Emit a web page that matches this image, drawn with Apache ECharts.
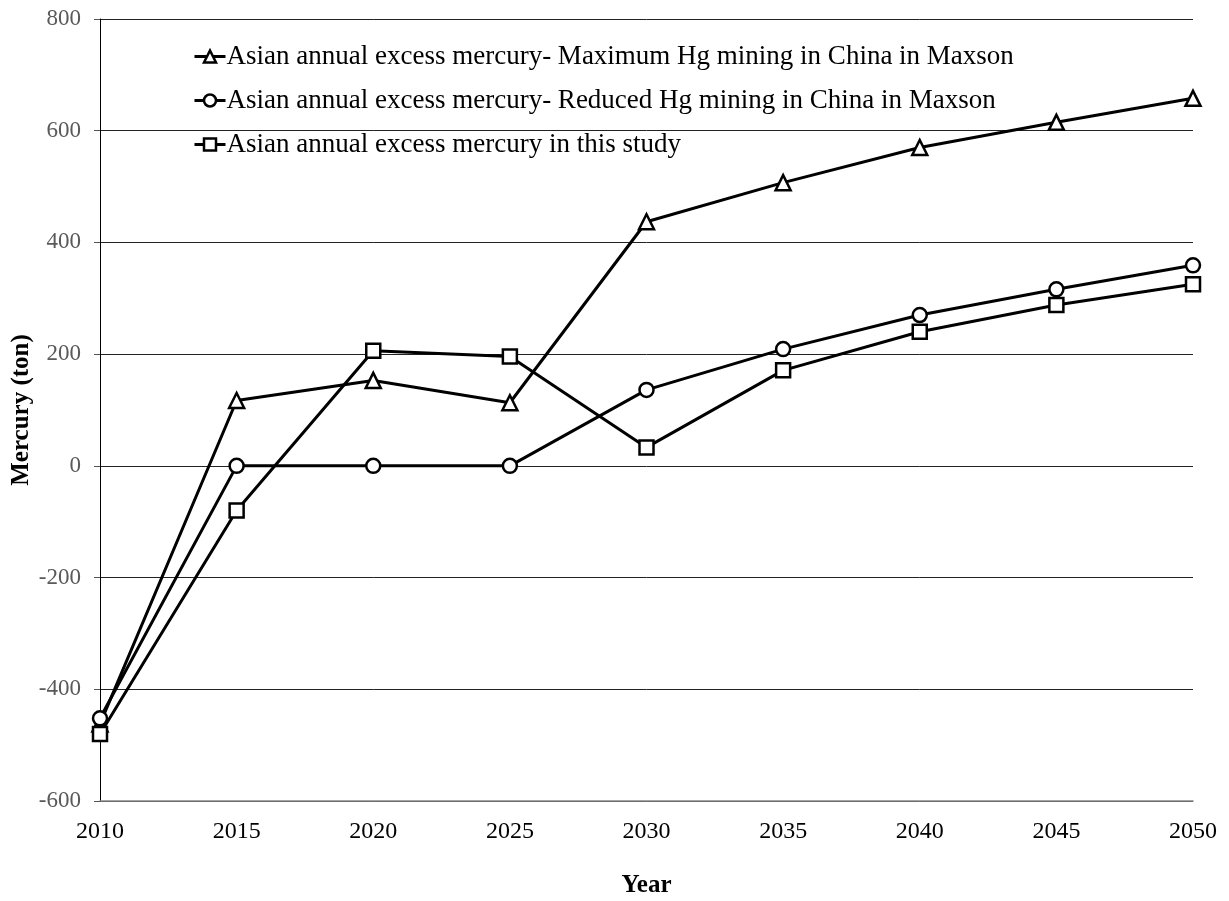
<!DOCTYPE html>
<html>
<head>
<meta charset="utf-8">
<script src="https://cdn.jsdelivr.net/npm/echarts@6/dist/echarts.min.js"></script>
<style>
  html, body { margin: 0; padding: 0; background: #fff; }
  #chart { width: 1229px; height: 901px; }
</style>
</head>
<body>
<div id="chart"></div>
<script>
// Years on the horizontal axis
const years = [2010, 2015, 2020, 2025, 2030, 2035, 2040, 2045, 2050];

// Excess mercury (ton) per scenario
const maxMining = [-462, 117, 153, 113, 437, 507, 570, 615, 658];
const reducedMining = [-452, 0, 0, 0, 136, 209, 270, 316, 359];
const thisStudy = [-480, -80, 206, 196, 33, 171, 240, 288, 325];

const seriesNames = [
  'Asian annual excess mercury- Maximum Hg mining in China in Maxson',
  'Asian annual excess mercury- Reduced Hg mining in China in Maxson',
  'Asian annual excess mercury in this study'
];

const font = '"Liberation Serif", "Times New Roman", serif';

function makeSeries(name, values, symbol, size) {
  return {
    name: name,
    type: 'line',
    data: years.map((y, i) => [y, values[i]]),
    symbol: symbol,
    symbolSize: size,
    showAllSymbol: true,
    lineStyle: { color: '#000', width: 3 },
    itemStyle: { color: '#fff', borderColor: '#000', borderWidth: 2.5 },
    emphasis: { disabled: true },
    animation: false
  };
}

const chart = echarts.init(document.getElementById('chart'), null, { renderer: 'canvas' });
chart.setOption({
  backgroundColor: '#fff',
  animation: false,
  grid: { left: 100, right: 36, top: 19, bottom: 100, containLabel: false, outerBoundsMode: 'none' },
  legend: {
    orient: 'vertical',
    left: 188,
    top: 38,
    itemGap: 17,
    itemWidth: 31,
    itemHeight: 15,
    lineStyle: { width: 3, color: '#000' },
    itemStyle: { color: '#fff', borderColor: '#000', borderWidth: 2.5 },
    textStyle: { fontFamily: font, fontSize: 27, color: '#000', padding: [0, 0, 0, -4] },
    data: seriesNames
  },
  xAxis: {
    type: 'value',
    min: 2010,
    max: 2050,
    interval: 5,
    name: 'Year',
    nameLocation: 'middle',
    nameGap: 72,
    nameMoveOverlap: false,
    nameTextStyle: { fontFamily: font, fontSize: 25, fontWeight: 'bold', color: '#000' },
    axisLine: { show: true, onZero: false, lineStyle: { color: '#868686', width: 1.5 } },
    axisTick: { show: false },
    axisLabel: { fontFamily: font, fontSize: 24, color: '#000', margin: 19, formatter: v => String(v) },
    splitLine: { show: false }
  },
  yAxis: {
    type: 'value',
    min: -600,
    max: 800,
    interval: 200,
    name: 'Mercury (ton)',
    nameLocation: 'middle',
    nameRotate: 90,
    nameGap: 66,
    nameMoveOverlap: false,
    nameTextStyle: { fontFamily: font, fontSize: 25, fontWeight: 'bold', color: '#000' },
    axisLine: { show: true, lineStyle: { color: '#000', width: 1 } },
    axisTick: { show: true, inside: false, length: 6, lineStyle: { color: '#555' } },
    axisLabel: { fontFamily: font, fontSize: 23, color: '#595959', margin: 19 },
    splitLine: { show: true, lineStyle: { color: '#222', width: 1 } }
  },
  series: [
    makeSeries(seriesNames[0], maxMining, 'triangle', 15),
    makeSeries(seriesNames[1], reducedMining, 'circle', 14),
    makeSeries(seriesNames[2], thisStudy, 'rect', 14)
  ]
});
</script>
</body>
</html>
